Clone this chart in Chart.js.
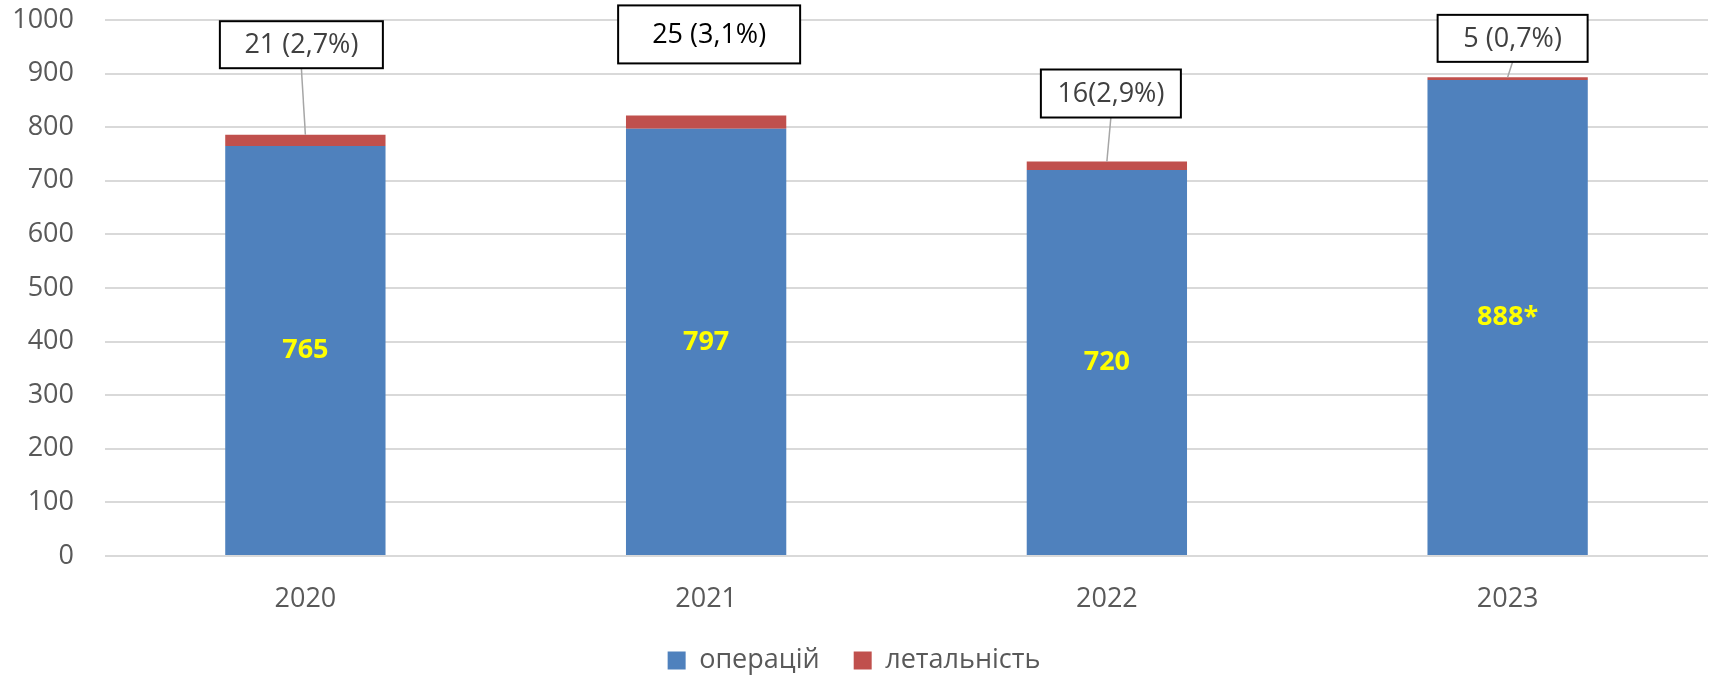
<!DOCTYPE html>
<html>
<head>
<meta charset="utf-8">
<script src="https://cdn.jsdelivr.net/npm/chart.js@4/dist/chart.umd.min.js"></script>
<style>
  html, body { margin: 0; padding: 0; background: #fff; }
  #chart { display: block; }
</style>
</head>
<body>
<canvas id="chart" width="1711" height="676"></canvas>
<script>
// data
var years = ['2020', '2021', '2022', '2023'];
var operations = [765, 797, 720, 888];
var lethal = [21, 25, 16, 5];
var innerLabels = ['765', '797', '720', '888*'];
var calloutLabels = ['21 (2,7%)', '25 (3,1%)', '16(2,9%)', '5 (0,7%)'];
var yMax = 1000;
var yStep = 100;

// callout box placement (pixels, relative to the top of each stack)
var boxDx = [-4, 3, 4, 5];
var boxDy = [-90, -81, -68, -39];
var boxW = [163, 182, 140, 150];
var boxH = [47, 58, 48, 47];
var boxText = ['#404040', '#000000', '#404040', '#404040'];
var hasLeader = [true, false, true, true];

var FONT = '"Open Sans", "Noto Sans", sans-serif';

var labelPlugin = {
    id: 'labelPlugin',
    afterDatasetsDraw: function (chart) {
        var ctx = chart.ctx;
        var base = chart.getDatasetMeta(0).data;
        var top = chart.getDatasetMeta(1).data;
        ctx.save();
        ctx.textAlign = 'center';
        ctx.textBaseline = 'middle';

        // values inside the blue bars
        ctx.font = 'bold 27px ' + FONT;
        ctx.fillStyle = '#FFFF00';
        base.forEach(function (bar, i) {
            ctx.fillText(innerLabels[i], bar.x, (bar.y + bar.base) / 2);
        });

        // callouts above the stacks
        top.forEach(function (bar, i) {
            var cx = bar.x + boxDx[i];
            var cy = bar.y + boxDy[i];
            var w = boxW[i], h = boxH[i];
            if (hasLeader[i]) {
                ctx.strokeStyle = '#A6A6A6';
                ctx.lineWidth = 1.5;
                ctx.beginPath();
                ctx.moveTo(cx, cy + h / 2);
                ctx.lineTo(bar.x, bar.y);
                ctx.stroke();
            }
            ctx.fillStyle = '#FFFFFF';
            ctx.fillRect(cx - w / 2, cy - h / 2, w, h);
            ctx.strokeStyle = '#000000';
            ctx.lineWidth = 2;
            ctx.strokeRect(cx - w / 2, cy - h / 2, w, h);
            ctx.font = '27px ' + FONT;
            ctx.fillStyle = boxText[i];
            ctx.fillText(calloutLabels[i], cx, cy + 1);
        });
        ctx.restore();
    }
};

new Chart(document.getElementById('chart').getContext('2d'), {
    type: 'bar',
    data: {
        labels: years,
        datasets: [{
            label: 'операцій',
            data: operations,
            backgroundColor: '#4F81BD',
            borderWidth: 0,
            categoryPercentage: 1,
            barPercentage: 0.4
        }, {
            label: 'летальність',
            data: lethal,
            backgroundColor: '#C0504D',
            borderWidth: 0,
            categoryPercentage: 1,
            barPercentage: 0.4
        }]
    },
    options: {
        responsive: false,
        animation: false,
        layout: {
            padding: { top: 20, right: 3, left: 0, bottom: -8 }
        },
        plugins: {
            legend: {
                position: 'bottom',
                labels: {
                    boxWidth: 18,
                    boxHeight: 18,
                    padding: 34,
                    color: '#595959',
                    font: { family: FONT, size: 27 }
                }
            },
            tooltip: { enabled: false }
        },
        scales: {
            x: {
                stacked: true,
                grid: { display: false },
                border: { display: false },
                ticks: {
                    color: '#595959',
                    padding: 19,
                    font: { family: FONT, size: 27 }
                },
                afterFit: function (scale) { scale.height = 57; }
            },
            y: {
                stacked: true,
                min: 0,
                max: yMax,
                border: { display: false },
                grid: {
                    color: '#D9D9D9',
                    lineWidth: 2,
                    drawTicks: false
                },
                ticks: {
                    stepSize: yStep,
                    color: '#595959',
                    padding: 31,
                    font: { family: FONT, size: 27 },
                    callback: function (v) { return String(v); }
                },
                afterFit: function (scale) {
                    scale.width = 105;
                    scale.paddingTop = 0;
                    scale.paddingBottom = 0;
                }
            }
        }
    },
    plugins: [labelPlugin]
});
</script>
</body>
</html>
